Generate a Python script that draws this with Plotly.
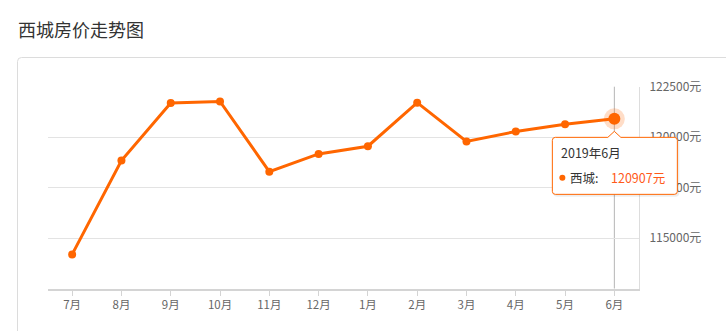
import plotly.graph_objects as go

# ---- data ----
months = ["7月", "8月", "9月", "10月", "11月", "12月", "1月", "2月", "3月", "4月", "5月", "6月"]
prices = [114190, 118840, 121690, 121770, 118290, 119170, 119550, 121710, 119790, 120280, 120640, 120907]
y_ticks = [115000, 117500, 120000, 122500]
y_tick_labels = [f"{v}元" for v in y_ticks]
y_range = [112500, 122500]
title_text = "西城房价走势图"
series_name = "西城"
tooltip_title = "2019年6月"

ORANGE = "#ff6600"
VALUE_ORANGE = "#ff5a1a"
FONT = "Noto Sans CJK SC"
W, H = 726, 331

def px_x(p):
    return p / W

def px_y(p):
    return (H - p) / H

x_domain = [px_x(47.5), px_x(639)]
y_domain = [px_y(288.5), px_y(86.7)]

fig = go.Figure()

fig.add_trace(go.Scatter(
    x=months, y=prices, mode="lines+markers",
    line=dict(color=ORANGE, width=3),
    marker=dict(color=ORANGE, size=8),
    hoverinfo="skip", showlegend=False, cliponaxis=False,
))
# highlighted last point (halo + emphasised marker)
fig.add_trace(go.Scatter(
    x=[months[-1]], y=[prices[-1]], mode="markers",
    marker=dict(color="rgba(255,102,0,0.22)", size=21),
    hoverinfo="skip", showlegend=False, cliponaxis=False,
))
fig.add_trace(go.Scatter(
    x=[months[-1]], y=[prices[-1]], mode="markers",
    marker=dict(color=ORANGE, size=12),
    hoverinfo="skip", showlegend=False, cliponaxis=False,
))

last_idx = len(months) - 1
# paper-space anchor of the highlighted point (shapes on axes get clipped)
ax = x_domain[0] + (last_idx + 0.5) / len(months) * (x_domain[1] - x_domain[0])
ay = y_domain[0] + (prices[-1] - y_range[0]) / (y_range[1] - y_range[0]) * (y_domain[1] - y_domain[0])

def tip(**kw):
    d = dict(xref="paper", yref="paper", xsizemode="pixel", ysizemode="pixel",
             xanchor=ax, yanchor=ay, layer="above")
    d.update(kw)
    return d

def tip_path(l, rgt, t, b, r, arrow=True):
    p = f"M {l + r},{t} "
    if arrow:
        p += f"L -6.5,{t} L 0,{t + 6} L 6.5,{t} "
    p += (f"L {rgt - r},{t} Q {rgt},{t} {rgt},{t - r} L {rgt},{b + r} "
          f"Q {rgt},{b} {rgt - r},{b} L {l + r},{b} Q {l},{b} {l},{b + r} "
          f"L {l},{t - r} Q {l},{t} {l + r},{t} Z")
    return p

shapes = []
# outer frame with rounded top-left corner
fx, fy, r = 17.5, 57.5, 4
shapes.append(dict(
    type="path", xref="paper", yref="paper",
    path=(f"M {px_x(fx)},{px_y(H + 5)} L {px_x(fx)},{px_y(fy + r)} "
          f"Q {px_x(fx)},{px_y(fy)} {px_x(fx + r)},{px_y(fy)} L {px_x(W + 5)},{px_y(fy)}"),
    line=dict(color="#dcdcdc", width=1), layer="below",
))
# axis pointer line
shapes.append(dict(
    type="line", xref="x", yref="y domain", x0=last_idx, x1=last_idx, y0=0, y1=1,
    line=dict(color="#b5b5b5", width=1), layer="below",
))
# tooltip shadow
shapes.append(tip(type="path", path=tip_path(-61, 65, -20, -78, 4, arrow=False),
                  fillcolor="rgba(0,0,0,0.07)", line=dict(width=0)))
# tooltip box with arrow
shapes.append(tip(type="path", path=tip_path(-62, 63, -18.5, -75.5, 3),
                  fillcolor="white", line=dict(color=ORANGE, width=1)))
# tooltip series dot
shapes.append(tip(type="circle", x0=-55, x1=-49, y0=-56, y1=-62,
                  fillcolor=ORANGE, line=dict(width=0)))

annotations = [
    dict(text=title_text, xref="paper", yref="paper", x=px_x(16), y=px_y(29),
         xanchor="left", yanchor="middle", showarrow=False,
         font=dict(family=FONT, size=18, color="#333333")),
    dict(text=tooltip_title, xref="x", yref="y", x=last_idx, y=prices[-1],
         xanchor="left", yanchor="middle", xshift=-55, yshift=-34, showarrow=False,
         font=dict(family=FONT, size=12.5, color="#333333")),
    dict(text=f"{series_name}:", xref="x", yref="y", x=last_idx, y=prices[-1],
         xanchor="left", yanchor="middle", xshift=-46, yshift=-59, showarrow=False,
         font=dict(family=FONT, size=12.5, color="#333333")),
    dict(text=f"{prices[-1]}元", xref="x", yref="y", x=last_idx, y=prices[-1],
         xanchor="left", yanchor="middle", xshift=-5, yshift=-59, showarrow=False,
         font=dict(family=FONT, size=12.5, color=VALUE_ORANGE)),
]

fig.update_layout(
    width=W, height=H, autosize=False,
    margin=dict(l=0, r=0, t=0, b=0, pad=0),
    paper_bgcolor="white", plot_bgcolor="white",
    font=dict(family=FONT, size=12, color="#666666"),
    showlegend=False,
    shapes=shapes, annotations=annotations,
    xaxis=dict(
        type="category", categoryorder="array", categoryarray=months,
        range=[-0.5, len(months) - 0.5],
        domain=x_domain, automargin=False,
        showgrid=False, zeroline=False,
        showline=True, linecolor="#d4d4d4", linewidth=2,
        ticks="outside", ticklen=5, tickcolor="#d4d4d4", tickwidth=1,
        tickfont=dict(family=FONT, size=11.5, color="#666666"),
        fixedrange=True,
    ),
    yaxis=dict(
        side="right", range=y_range,
        domain=y_domain, automargin=False,
        tickvals=y_ticks, ticktext=y_tick_labels,
        showgrid=True, gridcolor="#e3e3e3", gridwidth=1,
        zeroline=False,
        showline=True, linecolor="#dddddd", linewidth=1,
        ticks="outside", ticklen=7, tickcolor="rgba(0,0,0,0)",
        tickfont=dict(family=FONT, size=12, color="#666666"),
        fixedrange=True,
    ),
)

fig.write_html("out.html", config={"displayModeBar": False})
